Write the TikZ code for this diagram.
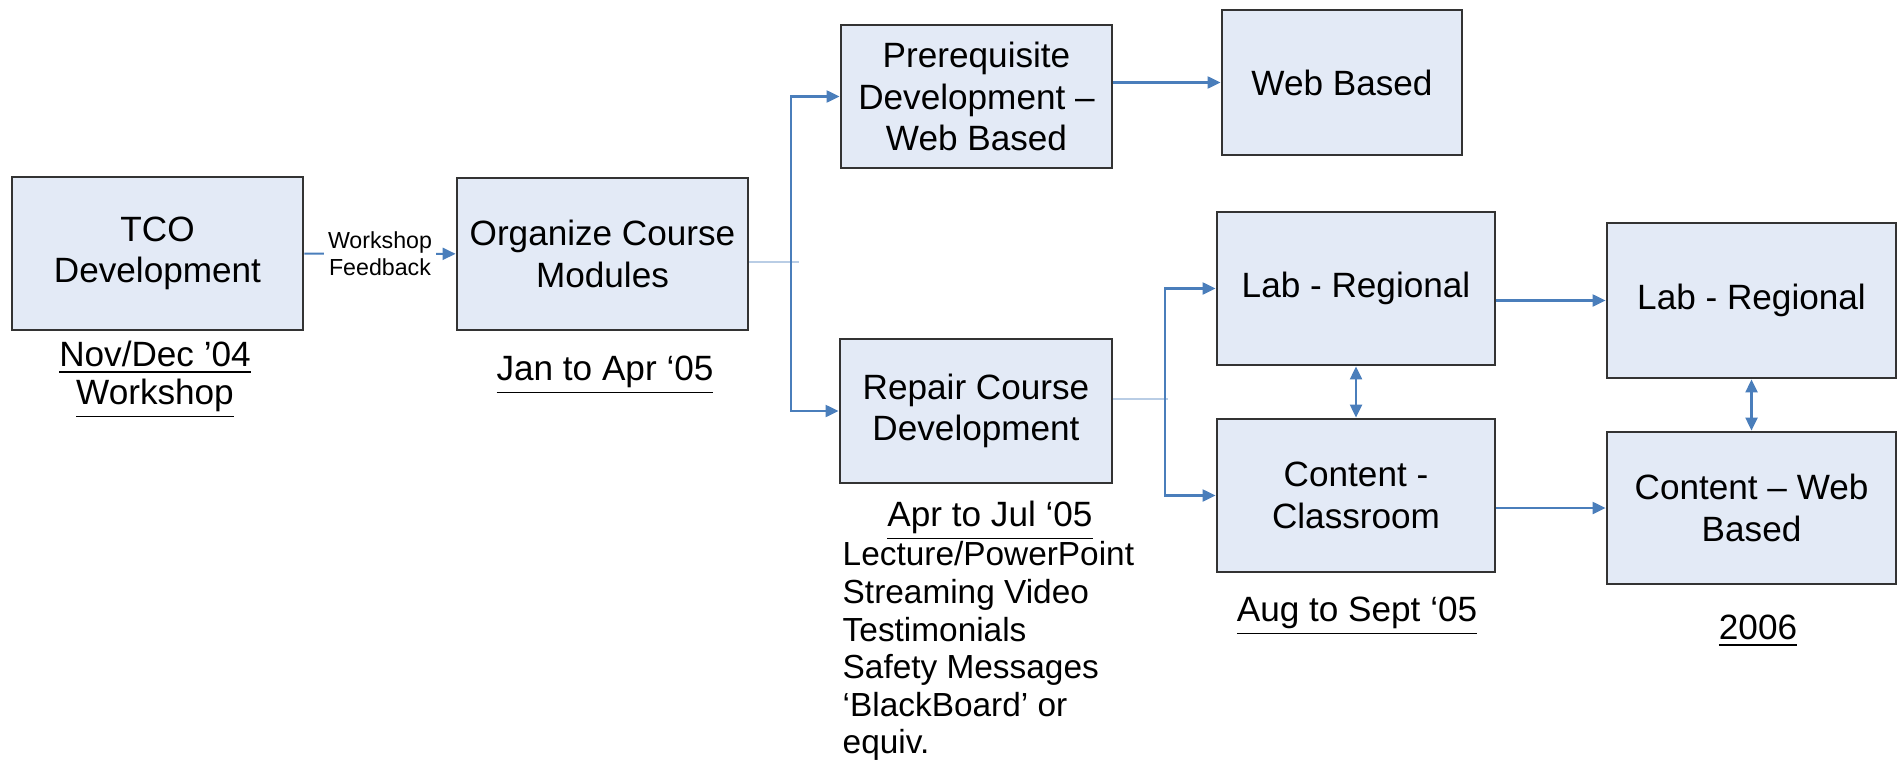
\documentclass[tikz,border=0pt]{standalone}
\usepackage{fontspec}
\setmainfont{Liberation Sans}
\usetikzlibrary{arrows.meta}
\definecolor{boxfill}{RGB}{227,234,246}
\definecolor{boxline}{RGB}{51,51,51}
\definecolor{flowblue}{RGB}{74,126,187}
\definecolor{stubblue}{RGB}{185,205,229}
\begin{document}
\begin{tikzpicture}[x=0.1mm, y=-0.1mm,
  stage/.style={rectangle, draw=boxline, line width=0.8pt, fill=boxfill, inner sep=0pt, align=center, font=\fontsize{10}{11.8}\selectfont},
  when/.style={align=center, inner sep=0pt, font=\fontsize{10}{11.4}\selectfont},
  flow/.style={draw=flowblue, line width=0.6pt, -{Triangle[length=1.3mm,width=1.2mm]}},
  twoway/.style={flow, {Triangle[length=1.3mm,width=1.2mm]}-{Triangle[length=1.3mm,width=1.2mm]}},
  stub/.style={draw=stubblue, line width=0.8pt}]
\useasboundingbox (0,0) rectangle (1898,767);
% boxes
\node[stage, minimum width=29.1mm, minimum height=15.3mm] (tco) at (157.5,253.5) {TCO\\Development};
\node[stage, minimum width=29.1mm, minimum height=15.2mm] (organize) at (602.5,254) {Organize Course\\Modules};
\node[stage, minimum width=27.1mm, minimum height=14.3mm] (prereq) at (976.5,96.5) {Prerequisite\\Development --\\Web Based};
\node[stage, minimum width=24mm, minimum height=14.5mm] (web) at (1342,82.5) {Web Based};
\node[stage, minimum width=27.2mm, minimum height=14.4mm] (repair) at (976,411) {Repair Course\\Development};
\node[stage, minimum width=27.8mm, minimum height=15.3mm] (lab) at (1356,288.5) {Lab - Regional};
\node[stage, minimum width=27.8mm, minimum height=15.3mm] (content) at (1356,495.5) {Content -\\Classroom};
\node[stage, minimum width=28.9mm, minimum height=15.5mm] (labR) at (1751.5,300.5) {Lab - Regional};
\node[stage, minimum width=28.9mm, minimum height=15.2mm] (contentR) at (1751.5,508) {Content -- Web\\Based};
% dates and notes
\node[when, font=\fontsize{10}{10.8}\selectfont] (tcodate) at (155,380) {\underline{Nov/Dec ’04}\\\underline{Workshop}};
\node[when] (orgdate) at (605,375) {\underline{Jan to Apr ‘05}};
\node[when] (repdate) at (990,521) {\underline{Apr to Jul ‘05}};
\node[when, align=left, anchor=north west, font=\fontsize{9.5}{10.7}\selectfont] (media) at (842,541)
  {Lecture/PowerPoint\\Streaming Video\\Testimonials\\Safety Messages\\‘BlackBoard’ or\\equiv.};
\node[when] (augdate) at (1357,616) {\underline{Aug to Sept ‘05}};
\node[when] (yeardate) at (1758,631) {\underline{2006}};
% connectors
\coordinate (j1) at (791,262);
\coordinate (j2) at (1165,399);
\draw[flow] (tco) -- node[fill=white, inner sep=1pt, align=center, font=\fontsize{6.6}{7.8}\selectfont] (fb) {Workshop\\Feedback} (organize);
\draw[stub] (organize.east |- j1) -- ++(50,0);
\draw[stub] (repair.east |- j2) -- ++(55,0);
\foreach \to in {prereq, repair}
\draw[flow] (j1) |- (\to);
\foreach \to in {lab, content}
\draw[flow] (j2) |- (\to);
\foreach \from/\to in {prereq/web, lab/labR, content/contentR}
\draw[flow] (\from.east |- \to.west) -- (\to.west);
\foreach \from/\to in {lab/content, labR/contentR}
\draw[twoway] (\from) -- (\to);
\end{tikzpicture}
\end{document}
